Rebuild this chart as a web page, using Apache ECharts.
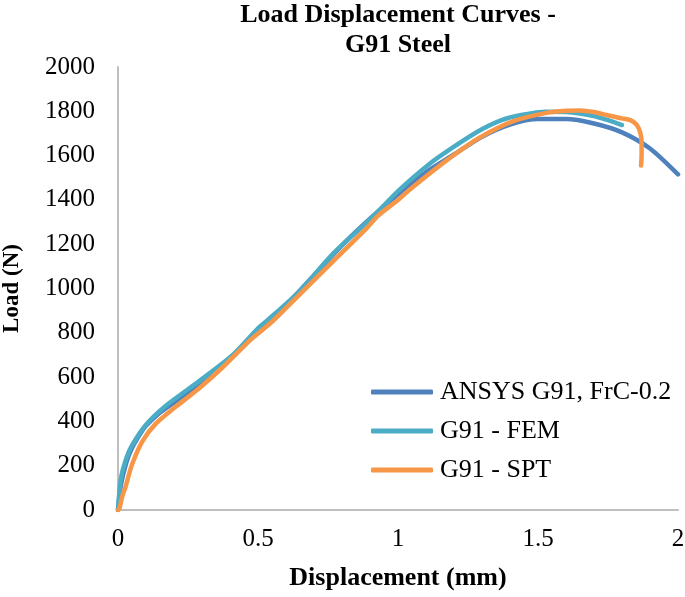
<!DOCTYPE html>
<html>
<head>
<meta charset="utf-8">
<script src="https://cdn.jsdelivr.net/npm/echarts@6/dist/echarts.min.js"></script>
<style>html,body{margin:0;padding:0;background:#fff}#c{width:685px;height:597px}</style>
</head>
<body>
<div id="c"></div>
<script>
const seriesNames = ['ANSYS G91, FrC-0.2', 'G91 - FEM', 'G91 - SPT'];
const ansysData = [[0,0],[0.01,110],[0.03,215],[0.05,280],[0.08,345],[0.1,380],[0.15,440],[0.2,485],[0.3,575],[0.4,680],[0.5,805],[0.6,925],[0.7,1060],[0.8,1195],[0.9,1315],[1.0,1425],[1.1,1525],[1.2,1605],[1.3,1685],[1.4,1740],[1.5,1765],[1.6,1765],[1.7,1745],[1.8,1705],[1.9,1632],[2.0,1515]];
const femData = [[0,0],[0.01,140],[0.03,235],[0.05,292],[0.1,385],[0.17,470],[0.29,582],[0.41,700],[0.5,820],[0.53,852],[0.65,990],[0.77,1160],[0.89,1300],[0.95,1375],[1.0,1440],[1.11,1560],[1.2,1640],[1.29,1712],[1.37,1760],[1.44,1783],[1.53,1798],[1.6,1797],[1.65,1790],[1.7,1778],[1.75,1760],[1.8,1738]];
const sptData = [[0,0],[0.005,5],[0.015,60],[0.027,105],[0.05,205],[0.087,310],[0.135,390],[0.2,460],[0.29,550],[0.37,640],[0.47,765],[0.55,850],[0.65,975],[0.77,1125],[0.89,1275],[0.93,1330],[1.0,1400],[1.05,1455],[1.17,1575],[1.29,1680],[1.41,1755],[1.53,1793],[1.6,1803],[1.65,1804],[1.7,1797],[1.745,1783],[1.8,1768],[1.83,1760],[1.852,1740],[1.865,1705],[1.87,1660],[1.87,1600],[1.868,1555]];
const xTicks = {min: 0, max: 2, interval: 0.5};
const yTicks = {min: 0, max: 2000, interval: 200};
const colors = ['#4f81bd', '#4bacc6', '#f79646'];

const serif = 'Liberation Serif, Times New Roman, serif';
const chart = echarts.init(document.getElementById('c'));
const mk = (name, data, color) => ({
  name, type: 'line', data, showSymbol: false, smooth: 0.25,
  lineStyle: {color, width: 4.5, cap: 'round', join: 'round'},
  itemStyle: {color}
});
chart.setOption({
  animation: false,
  backgroundColor: '#fff',
  title: {
    text: 'Load Displacement Curves -\nG91 Steel',
    left: 398, top: 0, textAlign: 'center', padding: 0,
    textStyle: {fontFamily: serif, fontWeight: 'bold', fontSize: 26, lineHeight: 30, color: '#000'}
  },
  legend: {
    orient: 'vertical', left: 366, top: 374, itemGap: 13,
    icon: 'roundRect', itemWidth: 62, itemHeight: 5,
    data: seriesNames,
    textStyle: {fontFamily: serif, fontSize: 26, color: '#000', padding: [0,0,0,2]}
  },
  grid: {left: 118, right: 7, top: 67, bottom: 87, containLabel: false, outerBoundsMode: 'none'},
  xAxis: {
    type: 'value', min: xTicks.min, max: xTicks.max, interval: xTicks.interval,
    name: 'Displacement (mm)', nameLocation: 'middle', nameGap: 55,
    nameTextStyle: {fontFamily: serif, fontWeight: 'bold', fontSize: 26, color: '#000'},
    axisLine: {show: true, lineStyle: {color: '#bfbfbf', width: 2}},
    axisTick: {show: false}, splitLine: {show: false},
    axisLabel: {fontFamily: serif, fontSize: 25, color: '#000', margin: 17, formatter: v => String(v)}
  },
  yAxis: {
    type: 'value', min: yTicks.min, max: yTicks.max, interval: yTicks.interval,
    name: 'Load (N)', nameLocation: 'middle', nameGap: 94,
    nameTextStyle: {fontFamily: serif, fontWeight: 'bold', fontSize: 23, color: '#000'},
    axisLine: {show: true, lineStyle: {color: '#bfbfbf', width: 2}},
    axisTick: {show: false}, splitLine: {show: false},
    axisLabel: {fontFamily: serif, fontSize: 25, color: '#000', margin: 23, formatter: v => String(v)}
  },
  series: [
    mk(seriesNames[0], ansysData, colors[0]),
    mk(seriesNames[1], femData, colors[1]),
    mk(seriesNames[2], sptData, colors[2])
  ]
});
</script>
</body>
</html>
